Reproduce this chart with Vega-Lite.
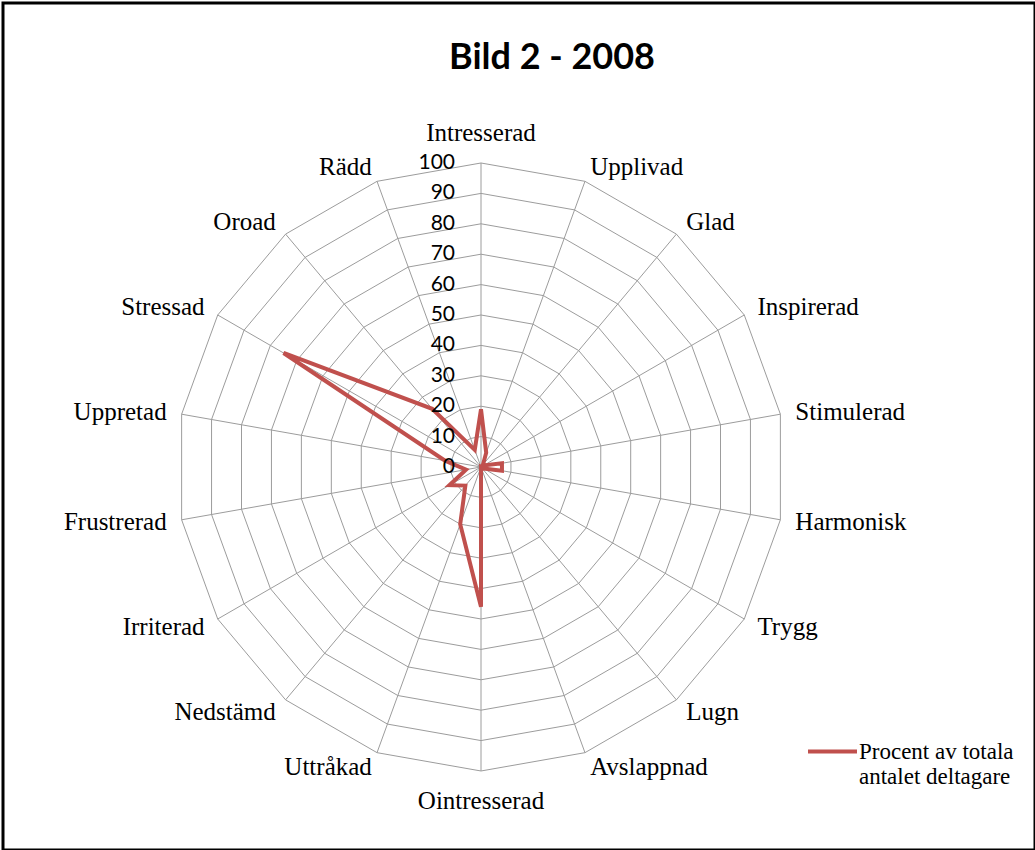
{
  "$schema": "https://vega.github.io/schema/vega-lite/v6.json",
  "width": 1032,
  "height": 847,
  "autosize": "none",
  "padding": {"left": 3, "top": 3, "right": 0, "bottom": 0},
  "background": "white",
  "config": {"view": {"stroke": "black", "strokeWidth": 3}},
  "title": {
    "text": "Bild 2 - 2008",
    "font": "Lato",
    "fontSize": 36,
    "fontWeight": "bold",
    "color": "black",
    "anchor": "middle",
    "dx": 33,
    "offset": -102,
    "baseline": "alphabetic"
  },
  "datasets": {
    "emotions": [
      {"cat": "Intresserad", "i": 0, "value": 19},
      {"cat": "Upplivad", "i": 1, "value": 5},
      {"cat": "Glad", "i": 2, "value": 1},
      {"cat": "Inspirerad", "i": 3, "value": 1},
      {"cat": "Stimulerad", "i": 4, "value": 7},
      {"cat": "Harmonisk", "i": 5, "value": 7},
      {"cat": "Trygg", "i": 6, "value": 1},
      {"cat": "Lugn", "i": 7, "value": 0},
      {"cat": "Avslappnad", "i": 8, "value": 0},
      {"cat": "Ointresserad", "i": 9, "value": 46},
      {"cat": "Uttråkad", "i": 10, "value": 20},
      {"cat": "Nedstämd", "i": 11, "value": 8},
      {"cat": "Irriterad", "i": 12, "value": 12},
      {"cat": "Frustrerad", "i": 13, "value": 5},
      {"cat": "Uppretad", "i": 14, "value": 12},
      {"cat": "Stressad", "i": 15, "value": 75},
      {"cat": "Oroad", "i": 16, "value": 25},
      {"cat": "Rädd", "i": 17, "value": 6}
    ],
    "levels": [
      {"level": 0}, {"level": 10}, {"level": 20}, {"level": 30}, {"level": 40},
      {"level": 50}, {"level": 60}, {"level": 70}, {"level": 80}, {"level": 90}, {"level": 100}
    ]
  },
  "layer": [
    {
      "data": {"values": [{"level": [10, 20, 30, 40, 50, 60, 70, 80, 90, 100], "i": [0, 1, 2, 3, 4, 5, 6, 7, 8, 9, 10, 11, 12, 13, 14, 15, 16, 17]}]},
      "transform": [
        {"flatten": ["level"]},
        {"flatten": ["i"]},
        {"calculate": "datum.level * sin(datum.i * PI / 9)", "as": "px"},
        {"calculate": "datum.level * cos(datum.i * PI / 9)", "as": "py"}
      ],
      "mark": {"type": "line", "interpolate": "linear-closed", "stroke": "#9C9C9C", "strokeWidth": 1},
      "encoding": {
        "x": {"field": "px", "type": "quantitative", "scale": {"domain": [-157.24, 182.24], "nice": false, "zero": false}, "axis": null},
        "y": {"field": "py", "type": "quantitative", "scale": {"domain": [-125.99, 152.63], "nice": false, "zero": false}, "axis": null},
        "detail": {"field": "level", "type": "nominal"},
        "order": {"field": "i", "type": "quantitative"}
      }
    },
    {
      "data": {"name": "emotions"},
      "transform": [
        {"calculate": "100 * sin(datum.i * PI / 9)", "as": "px"},
        {"calculate": "100 * cos(datum.i * PI / 9)", "as": "py"},
        {"calculate": "0", "as": "c0"}
      ],
      "mark": {"type": "rule", "stroke": "#9C9C9C", "strokeWidth": 1},
      "encoding": {
        "x": {"field": "c0", "type": "quantitative", "scale": {"domain": [-157.24, 182.24], "nice": false, "zero": false}, "axis": null},
        "y": {"field": "c0", "type": "quantitative", "scale": {"domain": [-125.99, 152.63], "nice": false, "zero": false}, "axis": null},
        "x2": {"field": "px"},
        "y2": {"field": "py"}
      }
    },
    {
      "data": {"name": "emotions"},
      "transform": [
        {"calculate": "datum.value * sin(datum.i * PI / 9)", "as": "px"},
        {"calculate": "datum.value * cos(datum.i * PI / 9)", "as": "py"}
      ],
      "mark": {"type": "line", "interpolate": "linear-closed", "strokeWidth": 4, "strokeJoin": "miter"},
      "encoding": {
        "x": {"field": "px", "type": "quantitative", "scale": {"domain": [-157.24, 182.24], "nice": false, "zero": false}, "axis": null},
        "y": {"field": "py", "type": "quantitative", "scale": {"domain": [-125.99, 152.63], "nice": false, "zero": false}, "axis": null},
        "order": {"field": "i", "type": "quantitative"},
        "color": {
          "datum": "Procent av totala antalet deltagare",
          "type": "nominal",
          "scale": {"range": ["#C0504D"]},
          "legend": {
            "orient": "none",
            "legendX": 803,
            "legendY": 722,
            "title": null,
            "symbolType": "stroke",
            "symbolStrokeWidth": 4,
            "symbolSize": 2400,
            "labelFont": "Liberation Serif",
            "labelFontSize": 23,
            "labelColor": "black",
            "labelLimit": 0,
            "labelOffset": 0,
            "labelExpr": "['Procent av totala', 'antalet deltagare']"
          }
        }
      }
    },
    {
      "data": {"name": "emotions"},
      "transform": [
        {"filter": "datum.i >= 1 && datum.i <= 8"},
        {"calculate": "105 * sin(datum.i * PI / 9)", "as": "px"},
        {"calculate": "105 * cos(datum.i * PI / 9)", "as": "py"}
      ],
      "mark": {"type": "text", "align": "left", "baseline": "middle", "font": "Liberation Serif", "fontSize": 25, "color": "black"},
      "encoding": {
        "x": {"field": "px", "type": "quantitative", "scale": {"domain": [-157.24, 182.24], "nice": false, "zero": false}, "axis": null},
        "y": {"field": "py", "type": "quantitative", "scale": {"domain": [-125.99, 152.63], "nice": false, "zero": false}, "axis": null},
        "text": {"field": "cat", "type": "nominal"}
      }
    },
    {
      "data": {"name": "emotions"},
      "transform": [
        {"filter": "datum.i >= 10"},
        {"calculate": "105 * sin(datum.i * PI / 9)", "as": "px"},
        {"calculate": "105 * cos(datum.i * PI / 9)", "as": "py"}
      ],
      "mark": {"type": "text", "align": "right", "baseline": "middle", "font": "Liberation Serif", "fontSize": 25, "color": "black"},
      "encoding": {
        "x": {"field": "px", "type": "quantitative", "scale": {"domain": [-157.24, 182.24], "nice": false, "zero": false}, "axis": null},
        "y": {"field": "py", "type": "quantitative", "scale": {"domain": [-125.99, 152.63], "nice": false, "zero": false}, "axis": null},
        "text": {"field": "cat", "type": "nominal"}
      }
    },
    {
      "data": {"name": "emotions"},
      "transform": [
        {"filter": "datum.i == 0 || datum.i == 9"},
        {"calculate": "110 * sin(datum.i * PI / 9)", "as": "px"},
        {"calculate": "110 * cos(datum.i * PI / 9)", "as": "py"}
      ],
      "mark": {"type": "text", "align": "center", "baseline": "middle", "font": "Liberation Serif", "fontSize": 25, "color": "black"},
      "encoding": {
        "x": {"field": "px", "type": "quantitative", "scale": {"domain": [-157.24, 182.24], "nice": false, "zero": false}, "axis": null},
        "y": {"field": "py", "type": "quantitative", "scale": {"domain": [-125.99, 152.63], "nice": false, "zero": false}, "axis": null},
        "text": {"field": "cat", "type": "nominal"}
      }
    },
    {
      "data": {"name": "levels"},
      "transform": [{"calculate": "0", "as": "c0"}],
      "mark": {"type": "text", "align": "right", "baseline": "middle", "dx": -26, "font": "Lato", "fontSize": 21, "color": "black"},
      "encoding": {
        "x": {"field": "c0", "type": "quantitative", "scale": {"domain": [-157.24, 182.24], "nice": false, "zero": false}, "axis": null},
        "y": {"field": "level", "type": "quantitative", "scale": {"domain": [-125.99, 152.63], "nice": false, "zero": false}, "axis": null},
        "text": {"field": "level", "type": "quantitative"}
      }
    }
  ]
}
